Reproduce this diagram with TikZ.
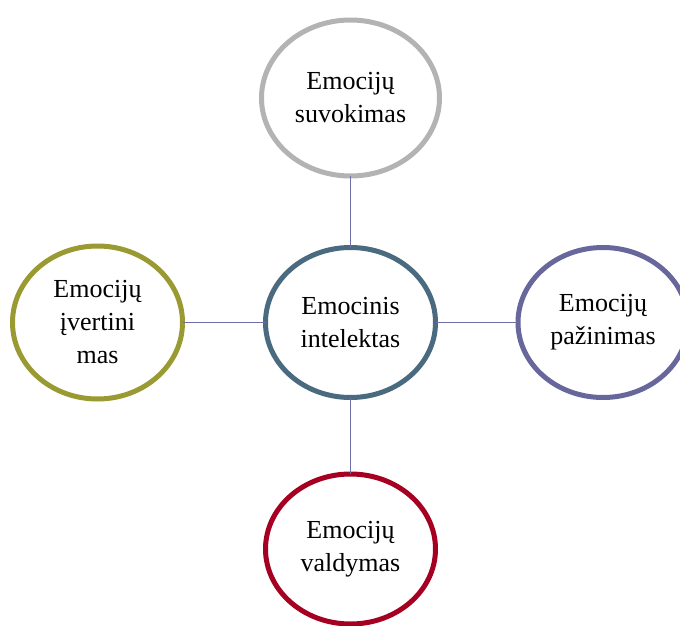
\documentclass[tikz,border=0pt]{standalone}
\usepackage{fontspec}
\setmainfont{Liberation Serif}
\usetikzlibrary{shapes.geometric}
\definecolor{ringgray}{HTML}{B3B3B3}
\definecolor{ringblue}{HTML}{4A6A80}
\definecolor{ringolive}{HTML}{9A9A32}
\definecolor{ringpurple}{HTML}{67679C}
\definecolor{ringred}{HTML}{A50021}
\definecolor{linkcol}{HTML}{6F6FA6}
\tikzset{
  ring/.style={ellipse, draw=#1, line width=5pt, fill=white, inner sep=0pt, outer sep=0pt,
    minimum width=170pt, minimum height=150pt, align=center,
    font=\fontsize{26pt}{33pt}\selectfont},
  link/.style={draw=linkcol, line width=1.5pt}
}
\begin{document}
\begin{tikzpicture}[x=1pt, y=-1pt]
  \useasboundingbox (0,0) rectangle (680,626);
  \begin{scope}
    \clip (0,0) rectangle (680,626);
    % central concept and the four surrounding components
    \node[ring=ringblue] (core) at (350.5,322.5) {Emocinis\\intelektas};
    \node[ring=ringgray, minimum width=178pt, minimum height=156pt] (top) at (350.5,98) {Emocijų\\suvokimas};
    \node[ring=ringolive, minimum height=153pt] (left) at (97.5,322.5) {Emocijų\\įvertini\\mas};
    \node[ring=ringpurple] (right) at (603,322.5) {Emocijų\\pažinimas};
    \node[ring=ringred] (bottom) at (350.5,549) {Emocijų\\valdymas};
    % links from the centre to each component
    \draw[link] (core.north) -- (top.south);
    \draw[link] (core.west) -- (left.east);
    \draw[link] (core.east) -- (right.west);
    \draw[link] (core.south) -- (bottom.north);
  \end{scope}
\end{tikzpicture}
\end{document}
